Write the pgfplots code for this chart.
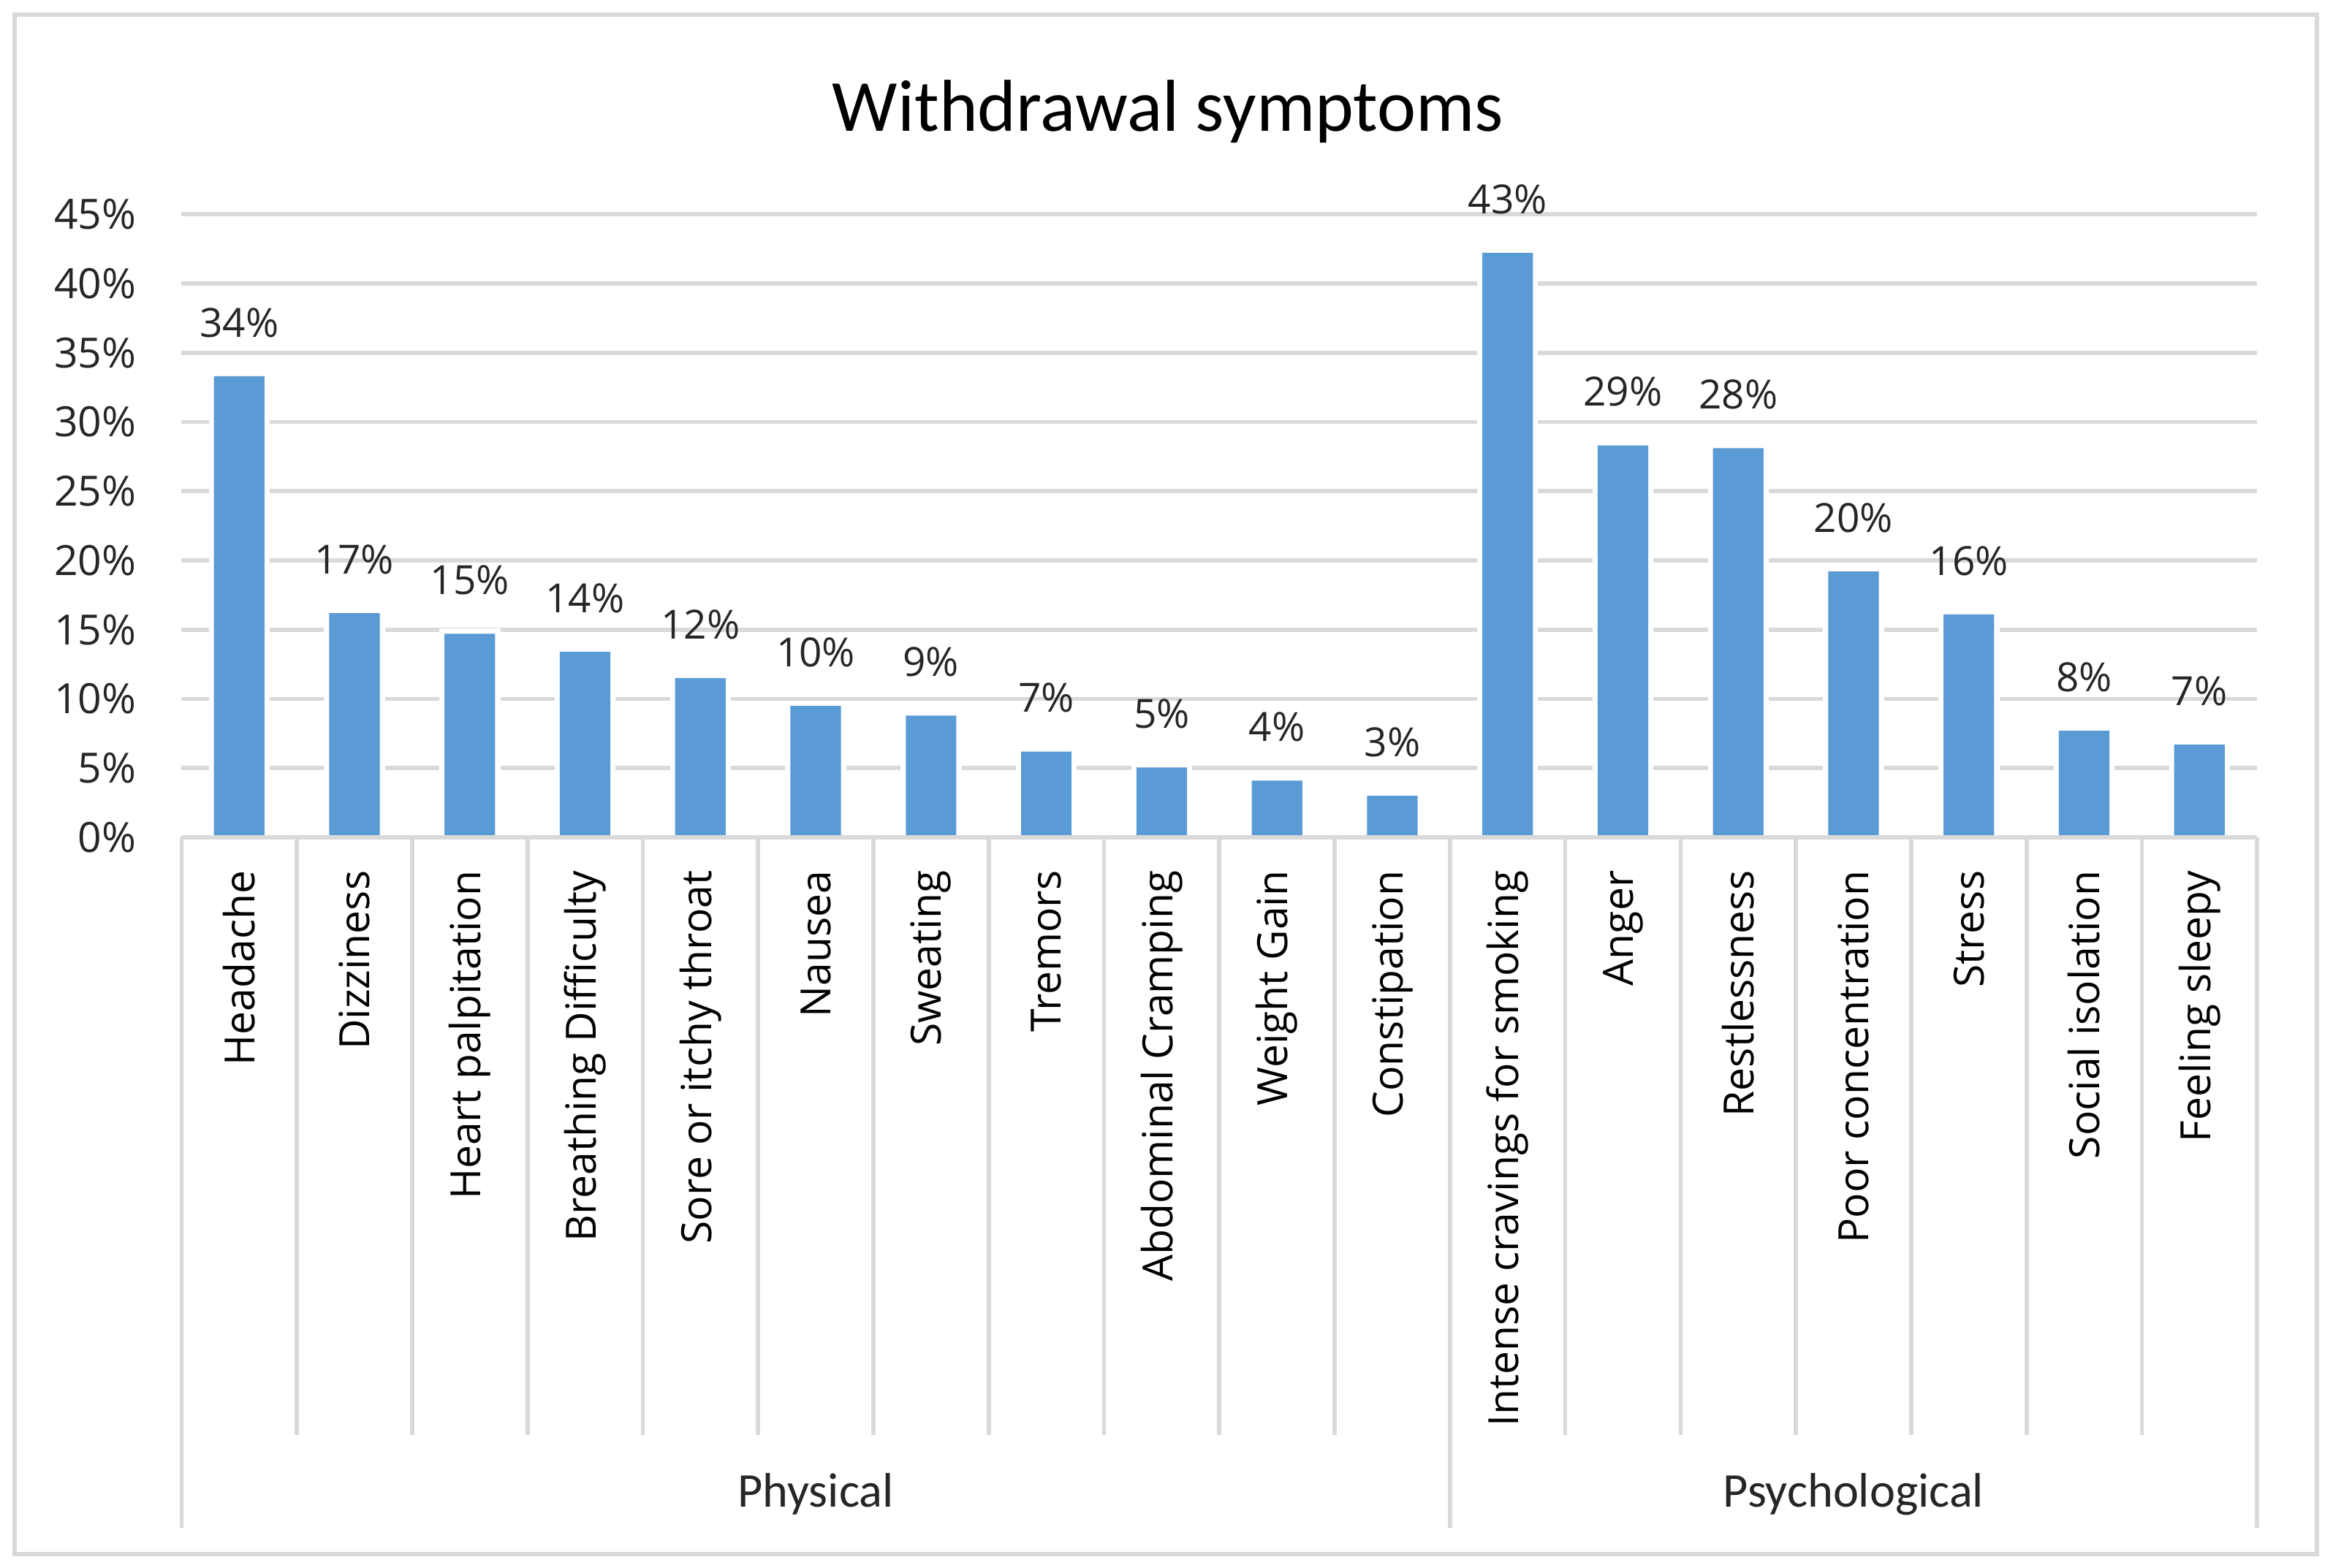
\documentclass[border=0pt]{standalone}
\usepackage{fontspec}
\setmainfont{Open Sans}
\newfontfamily\calfont{Carlito}
\usepackage{pgfplots}
\pgfplotsset{compat=1.18}
\usepackage{pgfplotstable}
\definecolor{barblue}{HTML}{5B9BD5}
\definecolor{gridgray}{HTML}{D9D9D9}
\definecolor{txt}{HTML}{262626}

\pgfplotstableread{
x y lab
0 33.3 34
1 16.2 17
2 14.7 15
3 13.4 14
4 11.5 12
5 9.5 10
6 8.8 9
7 6.2 7
8 5.05 5
9 4.1 4
10 3.0 3
11 42.2 43
12 28.3 29
13 28.1 28
14 19.2 20
15 16.1 16
16 7.7 8
17 6.7 7
}\datatable

\begin{document}
\begin{tikzpicture}
\path[use as bounding box] (0,0) rectangle (784pt,527pt);
\fill[white] (0,0) rectangle (784pt,527pt);
\draw[gridgray, line width=1.5pt] (5pt,4.5pt) rectangle (778.5pt,522pt);
\node[font=\calfont\fontsize{24.7}{28}\selectfont, anchor=base, text=black] at (392.5pt,483pt) {Withdrawal symptoms};
\begin{axis}[
  at={(61pt,245.5pt)}, anchor=south west,
  scale only axis, width=697.5pt, height=209.5pt,
  xmin=-0.5, xmax=17.5, ymin=0, ymax=45,
  clip=false,
  axis line style={draw=none},
  tick style={draw=none},
  major tick length=0pt,
  ymajorgrids,
  grid style={gridgray, line width=1.4pt},
  ytick={0,5,10,15,20,25,30,35,40,45},
  yticklabels={0\%,5\%,10\%,15\%,20\%,25\%,30\%,35\%,40\%,45\%},
  yticklabel style={font=\fontsize{14}{16}\selectfont, text=txt, inner sep=0pt, xshift=-15pt, anchor=east},
  xtick={0,...,17},
  xticklabels={Headache,Dizziness,Heart palpitation,Breathing Difficulty,Sore or itchy throat,Nausea,Sweating,Tremors,Abdominal Cramping,Weight Gain,Constipation,Intense cravings for smoking,Anger,Restlessness,Poor concentration,Stress,Social isolation,Feeling sleepy},
  xticklabel style={font=\fontsize{14}{16}\selectfont, text=black, inner sep=0pt, yshift=-11pt, rotate=90, anchor=east},
]
\addplot[ybar, bar width=17pt, bar shift=0pt, fill=white, draw=white, line width=3.5pt] table[x=x, y=y] {\datatable};
\addplot[ybar, bar width=17pt, bar shift=0pt, fill=barblue, draw=none,
  point meta=explicit symbolic,
  nodes near coords={\pgfplotspointmeta\%},
  every node near coord/.append style={font=\fontsize{13.5}{15}\selectfont, text=txt, inner sep=0pt, anchor=base, yshift=13.2pt}]
  table[x=x, y=y, meta=lab] {\datatable};
\draw[gridgray, line width=1.4pt] (axis cs:-0.5,0) -- (axis cs:17.5,0);
\pgfplotsinvokeforeach{0.5,1.5,2.5,3.5,4.5,5.5,6.5,7.5,8.5,9.5,11.5,12.5,13.5,14.5,15.5,16.5}{
  \draw[gridgray, line width=1.4pt] (axis cs:#1,0) -- ++(0pt,-201pt);
}
\pgfplotsinvokeforeach{-0.5,10.5,17.5}{
  \draw[gridgray, line width=1.4pt] (axis cs:#1,0) -- ++(0pt,-232pt);
}
\node[font=\calfont\fontsize{16.3}{18}\selectfont, text=txt, anchor=base] at (axis cs:5,0) [yshift=-225pt] {Physical};
\node[font=\calfont\fontsize{16.3}{18}\selectfont, text=txt, anchor=base] at (axis cs:14,0) [yshift=-225pt] {Psychological};
\end{axis}
\end{tikzpicture}
\end{document}
